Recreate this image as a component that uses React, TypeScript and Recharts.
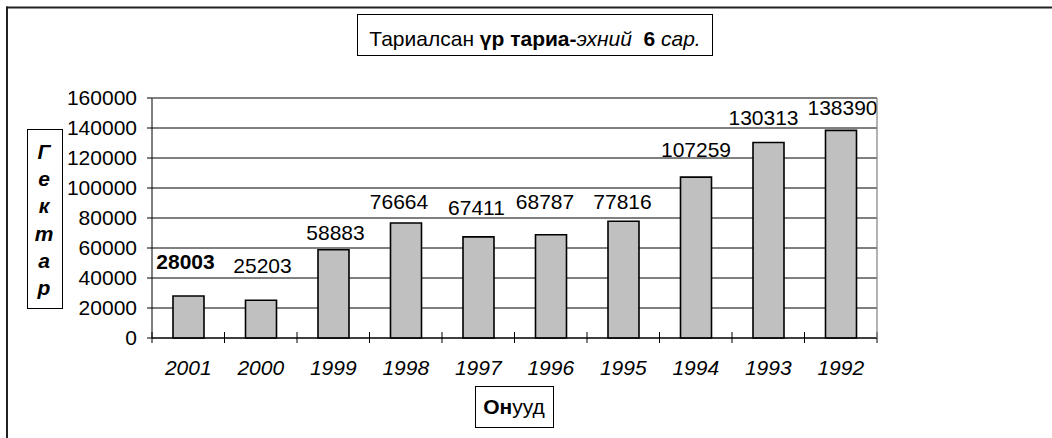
import React from 'react';
import { BarChart, Bar, XAxis, YAxis, CartesianGrid, LabelList } from 'recharts';

const years = ['2001', '2000', '1999', '1998', '1997', '1996', '1995', '1994', '1993', '1992'];
const hectares = [28003, 25203, 58883, 76664, 67411, 68787, 77816, 107259, 130313, 138390];
const yTicks = [0, 20000, 40000, 60000, 80000, 100000, 120000, 140000, 160000];

const data = years.map((year, i) => ({ year, value: hectares[i] }));

const FONT = '"Liberation Sans", Arial, sans-serif';
const FS = 21;
const W = 1052;
const H = 438;
const PLOT_LEFT = 152;
const PLOT_RIGHT = 877;
const PLOT_TOP = 98;
const PLOT_BOTTOM = 338;
const BAND = (PLOT_RIGHT - PLOT_LEFT) / years.length;

// label placement tweaks (style only), baseline lift above bar top and horizontal shift
const labelLift = [27, 27, 10, 14, 22, 26, 12, 20, 18, 15];
const labelShift = [-3, 1.5, 2, -7, -2, -6, -1, 0, -5, 1.5];

const XTick = (props: any) => {
  const { x, y, payload, index } = props;
  const i = index ?? payload?.index ?? 0;
  return (
    <g>
      <line x1={x - BAND / 2} x2={x - BAND / 2} y1={y - 6} y2={y + 5} stroke="#000" strokeWidth={1} />
      {i === years.length - 1 && (
        <line x1={x + BAND / 2} x2={x + BAND / 2} y1={y - 6} y2={y + 5} stroke="#000" strokeWidth={1} />
      )}
      <text x={x} y={y + 37} textAnchor="middle" fontSize={FS} fontStyle="italic" fontFamily={FONT} fill="#000">
        {payload.value}
      </text>
    </g>
  );
};

const renderLabel = (props: any) => {
  const { x, y, width, value } = props;
  let i = props.index;
  if (i === undefined || i === null) i = hectares.indexOf(Number(value));
  return (
    <text
      x={Number(x) + Number(width) / 2 + (labelShift[i] || 0)}
      y={Number(y) - (labelLift[i] || 0)}
      textAnchor="middle"
      fontSize={FS}
      fontFamily={FONT}
      fontWeight={i === 0 ? 'bold' : 'normal'}
      fill="#000"
    >
      {value}
    </text>
  );
};

const yLetters = ['Г', 'е', 'к', 'т', 'а', 'р'];

export default function App() {
  return (
    <div style={{ position: 'absolute', left: 0, top: 0, width: W, height: H, background: '#fff', fontFamily: FONT }}>
      <BarChart
        width={W}
        height={H}
        data={data}
        margin={{ top: PLOT_TOP, right: W - PLOT_RIGHT, bottom: H - PLOT_BOTTOM - 30, left: 12 }}
      >
        <CartesianGrid vertical={false} stroke="#000" strokeWidth={1} />
        <XAxis
          dataKey="year"
          type="category"
          interval={0}
          height={30}
          tickLine={false}
          tickSize={0}
          tickMargin={0}
          axisLine={{ stroke: '#000', strokeWidth: 1 }}
          tick={<XTick />}
        />
        <YAxis
          type="number"
          domain={[0, 160000]}
          ticks={yTicks}
          width={140}
          tickSize={5}
          tickMargin={10}
          axisLine={{ stroke: '#000', strokeWidth: 1 }}
          tickLine={{ stroke: '#000', strokeWidth: 1 }}
          tick={{ fill: '#000', fontSize: FS, fontFamily: FONT }}
          interval={0}
        />
        <Bar dataKey="value" fill="#c0c0c0" stroke="#000" strokeWidth={1.6} barSize={31} isAnimationActive={false}>
          <LabelList dataKey="value" content={renderLabel} />
        </Bar>
      </BarChart>
      <svg
        width={W}
        height={H}
        style={{ position: 'absolute', left: 0, top: 0, pointerEvents: 'none' }}
      >
        {/* outer frame */}
        <line x1={6} x2={W} y1={7.5} y2={7.5} stroke="#222" strokeWidth={2} />
        <line x1={7} x2={7} y1={6.5} y2={H} stroke="#222" strokeWidth={2} />
        {/* plot area border (top/right) */}
        <line x1={PLOT_LEFT} x2={PLOT_RIGHT} y1={PLOT_TOP} y2={PLOT_TOP} stroke="#808080" strokeWidth={1.2} />
        <line x1={PLOT_RIGHT} x2={PLOT_RIGHT} y1={PLOT_TOP} y2={PLOT_BOTTOM} stroke="#808080" strokeWidth={1.2} />
        {/* title box */}
        <rect x={357.5} y={14.5} width={355} height={41} fill="#fff" stroke="#000" strokeWidth={1} />
        <text x={535} y={46} textAnchor="middle" fontSize={FS} fontFamily={FONT} fill="#000" style={{ whiteSpace: 'pre' }}>
          Тариалсан <tspan fontWeight="bold">үр тариа-</tspan>
          <tspan fontStyle="italic">эхний  </tspan>
          <tspan fontWeight="bold">6</tspan>
          <tspan fontStyle="italic"> сар.</tspan>
        </text>
        {/* y axis title box */}
        <rect x={27.5} y={129.5} width={35} height={179} fill="#fff" stroke="#000" strokeWidth={1} />
        {yLetters.map((ch, i) => (
          <text
            key={i}
            x={44}
            y={159 + i * 27.2}
            textAnchor="middle"
            fontSize={FS}
            fontWeight="bold"
            fontStyle="italic"
            fontFamily={FONT}
            fill="#000"
          >
            {ch}
          </text>
        ))}
        {/* x axis title box */}
        <rect x={475.5} y={386.5} width={78} height={41} fill="#fff" stroke="#000" strokeWidth={1} />
        <text x={514} y={414} textAnchor="middle" fontSize={FS} fontFamily={FONT} fill="#000">
          <tspan fontWeight="bold">Он</tspan>ууд
        </text>
      </svg>
    </div>
  );
}
